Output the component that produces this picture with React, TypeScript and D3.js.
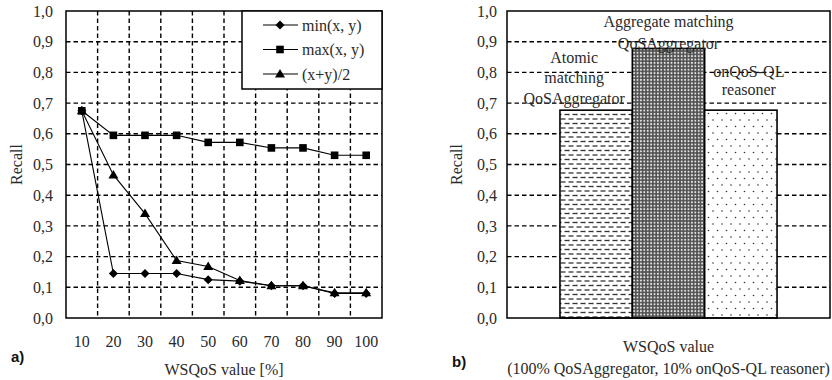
import { useMemo } from "react";
import * as d3 from "d3";

// Chart a) — recall per WSQoS value, three aggregation functions
const wsqosValues = ["10", "20", "30", "40", "50", "60", "70", "80", "90", "100"];
const minSeries = [0.675, 0.145, 0.145, 0.145, 0.125, 0.12, 0.105, 0.105, 0.08, 0.08];
const maxSeries = [0.675, 0.595, 0.595, 0.595, 0.572, 0.572, 0.554, 0.554, 0.53, 0.53];
const avgSeries = [0.675, 0.466, 0.34, 0.187, 0.168, 0.122, 0.105, 0.105, 0.082, 0.082];
const seriesNames = ["min(x, y)", "max(x, y)", "(x+y)/2"];
const markerTypes = ["diamond", "square", "triangle"];

// Chart b) — recall of the three approaches
const barCategory = ["WSQoS"];
const barNames = ["atomic", "aggregate", "onqos"];
const barValues = [0.677, 0.878, 0.677];
const barLabels = [
  ["Atomic", "matching", "QoSAggregator"],
  ["Aggregate matching", "QoSAggregator"],
  ["onQoS-QL", "reasoner"],
];
const barPatterns = ["hdash", "checker", "dots"];

const yTickValues = d3.range(0, 11).map((i) => i / 10);
const fmt = (v: number) => v.toFixed(1).replace(".", ",");

const FONT = "'Liberation Serif', 'Times New Roman', serif";
const TEXT = "#2a2a2a";
const FS = 16;

// label placement (pixel offsets relative to bar centre / bar top)
const labelLayout = [
  { dx: -22, firstDy: -53, lineH: 20.5 },
  { dx: 0, firstDy: -27, lineH: 22 },
  { dx: 8, firstDy: -39, lineH: 18.5 },
];

function Marker({ type, x, y }: { type: string; x: number; y: number }) {
  if (type === "diamond") {
    const s = 4.5;
    return (
      <path
        d={`M${x},${y - s}L${x + s},${y}L${x},${y + s}L${x - s},${y}Z`}
        fill="#000"
      />
    );
  }
  if (type === "square") {
    return <rect x={x - 3.8} y={y - 3.8} width={7.6} height={7.6} fill="#000" />;
  }
  return (
    <path d={`M${x},${y - 5}L${x + 5},${y + 3.5}L${x - 5},${y + 3.5}Z`} fill="#000" />
  );
}

export default function App() {
  // ---- chart a ----
  const aLeft = 66;
  const aRight = 382;
  const top = 11;
  const bottom = 318;

  const x = useMemo(
    () => d3.scaleBand<string>().domain(wsqosValues).range([aLeft, aRight]).padding(0),
    []
  );
  const y = d3.scaleLinear().domain([0, 1]).range([bottom, top]);

  const allSeries = [minSeries, maxSeries, avgSeries];
  const line = d3
    .line<number>()
    .x((_, i) => (x(wsqosValues[i]) as number) + x.bandwidth() / 2)
    .y((d) => y(d));

  // ---- chart b ----
  const bLeft = 507;
  const bRight = 830;
  const x0 = d3
    .scaleBand<string>()
    .domain(barCategory)
    .range([bLeft, bRight])
    .paddingInner(0)
    .paddingOuter(0.244);
  const x1 = d3
    .scaleBand<string>()
    .domain(barNames)
    .range([0, x0.bandwidth()])
    .padding(0);

  const gridDash = "4.5,3";

  return (
    <svg
      width={832}
      height={380}
      style={{ position: "absolute", left: 0, top: 0, background: "#fff" }}
      fontFamily={FONT}
    >
      <defs>
        <pattern id="hdash" width={8} height={9} patternUnits="userSpaceOnUse">
          <rect width={8} height={9} fill="#fff" />
          <line x1={0.5} x2={5.5} y1={2} y2={2} stroke="#333" strokeWidth={1.3} />
          <line x1={4.5} x2={8} y1={6.5} y2={6.5} stroke="#333" strokeWidth={1.3} />
          <line x1={0} x2={1.5} y1={6.5} y2={6.5} stroke="#333" strokeWidth={1.3} />
        </pattern>
        <pattern id="checker" width={3.4} height={3.4} patternUnits="userSpaceOnUse">
          <rect width={3.4} height={3.4} fill="#505050" />
          <circle cx={1.7} cy={1.7} r={1} fill="#e6e6e6" />
        </pattern>
        <pattern id="dots" width={9} height={13} patternUnits="userSpaceOnUse">
          <rect width={9} height={13} fill="#fff" />
          <circle cx={2} cy={3} r={0.8} fill="#333" />
          <circle cx={6.5} cy={9.5} r={0.8} fill="#333" />
        </pattern>
      </defs>

      {/* ================= chart a ================= */}
      <g>
        {/* horizontal grid */}
        {yTickValues.slice(1, 10).map((v) => (
          <line
            key={"ha" + v}
            x1={aLeft}
            x2={aRight}
            y1={y(v)}
            y2={y(v)}
            stroke="#000"
            strokeWidth={1.4}
            strokeDasharray={gridDash}
          />
        ))}
        {/* vertical grid at band boundaries */}
        {wsqosValues.slice(1).map((c) => (
          <line
            key={"va" + c}
            x1={x(c)}
            x2={x(c)}
            y1={top}
            y2={bottom}
            stroke="#000"
            strokeWidth={1.4}
            strokeDasharray={gridDash}
          />
        ))}
        <rect
          x={aLeft}
          y={top}
          width={aRight - aLeft}
          height={bottom - top}
          fill="none"
          stroke="#000"
          strokeWidth={1.5}
        />

        {/* y tick labels */}
        {yTickValues.map((v) => (
          <text
            key={"ya" + v}
            x={53}
            y={y(v)}
            dy="0.35em"
            textAnchor="end"
            fontSize={FS}
            fill={TEXT}
          >
            {fmt(v)}
          </text>
        ))}
        {/* x tick labels */}
        {wsqosValues.map((c) => (
          <text
            key={"xa" + c}
            x={(x(c) as number) + x.bandwidth() / 2}
            y={347}
            textAnchor="middle"
            fontSize={FS}
            fill={TEXT}
          >
            {c}
          </text>
        ))}
        <text
          transform={`translate(22, ${(top + bottom) / 2}) rotate(-90)`}
          textAnchor="middle"
          fontSize={FS}
          fill={TEXT}
        >
          Recall
        </text>
        <text x={224} y={375} textAnchor="middle" fontSize={FS} fill={TEXT}>
          WSQoS value [%]
        </text>
        <text
          x={11}
          y={362}
          fontSize={15}
          fontWeight="bold"
          fontFamily="'Liberation Sans', Arial, sans-serif"
          fill="#111"
        >
          a)
        </text>

        {/* lines + markers */}
        {allSeries.map((s, si) => (
          <g key={"s" + si}>
            <path d={line(s) || ""} fill="none" stroke="#000" strokeWidth={1.1} />
            {s.map((v, i) => (
              <Marker
                key={i}
                type={markerTypes[si]}
                x={(x(wsqosValues[i]) as number) + x.bandwidth() / 2}
                y={y(v)}
              />
            ))}
          </g>
        ))}

        {/* legend */}
        <rect
          x={242}
          y={top}
          width={aRight - 242}
          height={78}
          fill="#fff"
          stroke="#000"
          strokeWidth={1.5}
        />
        {seriesNames.map((n, i) => {
          const ly = 25 + i * 24.5;
          return (
            <g key={"lg" + n}>
              <line x1={263} x2={298} y1={ly} y2={ly} stroke="#000" strokeWidth={1.1} />
              <Marker type={markerTypes[i]} x={280} y={ly} />
              <text x={302} y={ly} dy="0.35em" fontSize={FS} fill={TEXT}>
                {n}
              </text>
            </g>
          );
        })}
      </g>

      {/* ================= chart b ================= */}
      <g>
        {yTickValues.slice(1, 10).map((v) => (
          <line
            key={"hb" + v}
            x1={bLeft}
            x2={bRight}
            y1={y(v)}
            y2={y(v)}
            stroke="#000"
            strokeWidth={1.4}
            strokeDasharray={gridDash}
          />
        ))}
        {barNames.map((b, i) => {
          const bx = (x0(barCategory[0]) as number) + (x1(b) as number);
          return (
            <rect
              key={"bar" + b}
              x={bx}
              y={y(barValues[i])}
              width={x1.bandwidth()}
              height={bottom - y(barValues[i])}
              fill={`url(#${barPatterns[i]})`}
              stroke="#000"
              strokeWidth={1.6}
            />
          );
        })}
        <rect
          x={bLeft}
          y={top}
          width={bRight - bLeft}
          height={bottom - top}
          fill="none"
          stroke="#000"
          strokeWidth={1.5}
        />
        {yTickValues.map((v) => (
          <text
            key={"yb" + v}
            x={497}
            y={y(v)}
            dy="0.35em"
            textAnchor="end"
            fontSize={FS}
            fill={TEXT}
          >
            {fmt(v)}
          </text>
        ))}
        <text
          transform={`translate(462, ${(top + bottom) / 2}) rotate(-90)`}
          textAnchor="middle"
          fontSize={FS}
          fill={TEXT}
        >
          Recall
        </text>

        {/* bar labels */}
        {barNames.map((b, i) => {
          const cx =
            (x0(barCategory[0]) as number) + (x1(b) as number) + x1.bandwidth() / 2;
          const ty = y(barValues[i]);
          const L = labelLayout[i];
          return (
            <g key={"lb" + b}>
              {barLabels[i].map((t, j) => (
                <text
                  key={t}
                  x={cx + L.dx}
                  y={ty + L.firstDy + j * L.lineH}
                  dy="0.35em"
                  textAnchor="middle"
                  fontSize={FS}
                  fill={TEXT}
                >
                  {t}
                </text>
              ))}
            </g>
          );
        })}

        <text
          x={(bLeft + bRight) / 2}
          y={352}
          textAnchor="middle"
          fontSize={FS}
          fill={TEXT}
        >
          WSQoS value
        </text>
        <text
          x={(bLeft + bRight) / 2}
          y={374}
          textAnchor="middle"
          fontSize={FS}
          fill={TEXT}
        >
          (100% QoSAggregator, 10% onQoS-QL reasoner)
        </text>
        <text
          x={452}
          y={367}
          fontSize={15}
          fontWeight="bold"
          fontFamily="'Liberation Sans', Arial, sans-serif"
          fill="#111"
        >
          b)
        </text>
      </g>
    </svg>
  );
}
